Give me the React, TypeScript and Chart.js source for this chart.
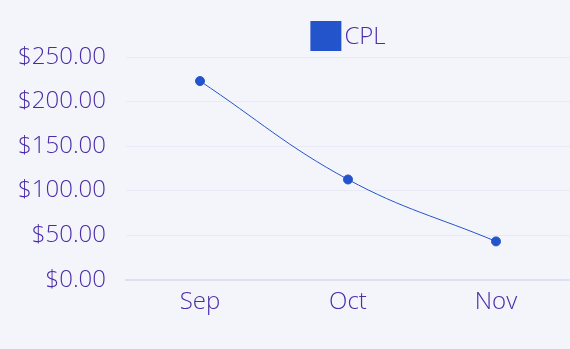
import React, { useEffect, useRef } from "react";
import { Chart, registerables } from "chart.js";

Chart.register(...registerables);

const categories = ["Sep", "Oct", "Nov"];
const cplValues = [223, 112.5, 43];
const seriesLabel = "CPL";
const yTicks = [0, 50, 100, 150, 200, 250];

const FONT = "'Open Sans', sans-serif";
const TEXT = "#4b2ba8";
const BLUE = "#2454cc";

const legendPlugin = {
  id: "customLegend",
  afterDraw(chart: any) {
    const ctx = chart.ctx;
    const area = chart.chartArea;
    const label = chart.data.datasets[0].label;
    ctx.save();
    ctx.font = `300 24px ${FONT}`;
    const tw = ctx.measureText(label).width;
    const box = 31;
    const gap = 3;
    const total = box + gap + tw;
    const cx = (area.left + area.right) / 2;
    const x0 = cx - total / 2;
    const y0 = 21;
    ctx.fillStyle = BLUE;
    ctx.fillRect(x0, y0, box, 30);
    ctx.fillStyle = TEXT;
    ctx.textBaseline = "middle";
    ctx.textAlign = "left";
    ctx.fillText(label, x0 + box + gap, y0 + 15 + 1);
    ctx.restore();
  },
};

export default function App() {
  const ref = useRef<HTMLCanvasElement>(null);
  useEffect(() => {
    document.body.style.margin = "0";
    document.body.style.background = "#f4f5fb";
    const chart = new Chart(ref.current!, {
      type: "line",
      data: {
        labels: categories,
        datasets: [
          {
            label: seriesLabel,
            data: cplValues,
            borderColor: BLUE,
            backgroundColor: BLUE,
            borderWidth: 1,
            pointRadius: 4.5,
            pointBorderWidth: 1,
            pointBackgroundColor: BLUE,
            tension: 0.4,
          },
        ],
      },
      options: {
        animation: false,
        responsive: true,
        maintainAspectRatio: false,
        layout: { autoPadding: false, padding: { top: 57, bottom: 23.5, left: 0, right: 0 } },
        plugins: {
          legend: { display: false },
          tooltip: { enabled: false },
        },
        scales: {
          x: {
            offset: true,
            grid: { display: false, drawTicks: false },
            border: { display: true, color: "#dde0f2", width: 2 },
            ticks: {
              color: TEXT,
              font: { family: FONT, size: 24, weight: "300" as any },
              padding: 8.5,
            },
          },
          y: {
            min: 0,
            max: 250,
            afterBuildTicks: (s: any) => {
              s.ticks = yTicks.map((v) => ({ value: v }));
            },
            afterFit: (s: any) => {
              s.width = 126;
            },
            grid: { color: "#e8eaf5", drawTicks: false, lineWidth: 1 },
            border: { display: false },
            ticks: {
              color: TEXT,
              font: { family: FONT, size: 24, weight: "300" as any },
              padding: 20,
              callback: (v: any) => "$" + Number(v).toFixed(2),
            },
          },
        },
      },
      plugins: [legendPlugin],
    });
    return () => chart.destroy();
  }, []);
  return (
    <div style={{ width: 570, height: 349, position: "relative", background: "#f4f5fb" }}>
      <canvas ref={ref} />
    </div>
  );
}
